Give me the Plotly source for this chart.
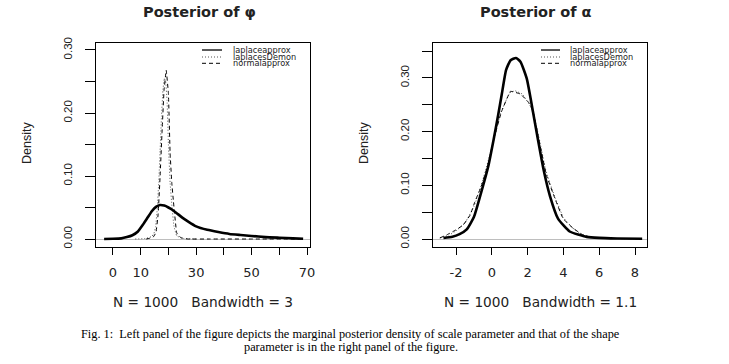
import plotly.graph_objects as go

W, H = 729, 364

# ---------------- data: left panel (phi) ----------------
phi_la_x = [-3.2, 0, 3, 5, 7, 9, 11, 12.5, 14, 15.5, 17, 18.5, 20, 21.5, 23, 25, 27, 30, 34, 38, 42, 46, 50, 55, 60, 65, 68.6]
phi_la_y = [0.0, 0.0003, 0.001, 0.003, 0.006, 0.012, 0.024, 0.034, 0.044, 0.051, 0.054, 0.053, 0.050, 0.046, 0.041, 0.034, 0.028, 0.020, 0.0145, 0.011, 0.008, 0.0063, 0.0048, 0.003, 0.002, 0.001, 0.0004]

phi_ld_x = [8, 12, 14, 14.8, 15.4, 16.0, 16.5, 17.0, 17.5, 18.0, 18.5, 19.0, 19.5, 20.0, 20.6, 21.3, 22.0, 23.0, 25, 30]
phi_ld_y = [0.0, 0.001, 0.004, 0.009, 0.02, 0.05, 0.09, 0.14, 0.195, 0.235, 0.255, 0.25, 0.22, 0.15, 0.09, 0.05, 0.02, 0.005, 0.001, 0.0]

phi_na_x = [12, 13, 14.5, 15.5, 16.3, 17.0, 17.7, 18.4, 19.2, 20.0, 20.6, 21.2, 21.8, 23.0, 24.5, 27, 35, 50, 68]
phi_na_y = [0.0, 0.001, 0.003, 0.01, 0.04, 0.10, 0.17, 0.235, 0.268, 0.231, 0.137, 0.09, 0.06, 0.0095, 0.002, 0.0, 0.0, 0.0, 0.0]

# ---------------- data: right panel (alpha) ----------------
alp_la_x = [-2.7, -2.2, -1.8, -1.4, -1.0, -0.6, -0.2, 0.1, 0.35, 0.55, 0.8, 1.05, 1.35, 1.6, 1.95, 2.3, 2.6, 2.9, 3.25, 3.7, 4.35, 5.3, 6.0, 7.0, 8.4]
alp_la_y = [0.002, 0.004, 0.009, 0.018, 0.041, 0.086, 0.135, 0.185, 0.230, 0.268, 0.315, 0.333, 0.337, 0.330, 0.299, 0.237, 0.181, 0.128, 0.080, 0.038, 0.014, 0.004, 0.002, 0.001, 0.0005]

alp_ld_x = [-2.9, -2.4, -2.0, -1.5, -1.0, -0.5, 0, 0.5, 1.0, 1.3, 1.7, 2.2, 2.6, 3.0, 3.5, 4.0, 4.5, 5.0, 5.6, 6.5, 8.4]
alp_ld_y = [0.002, 0.007, 0.015, 0.03, 0.06, 0.11, 0.17, 0.235, 0.272, 0.276, 0.27, 0.245, 0.195, 0.13, 0.08, 0.04, 0.021, 0.009, 0.003, 0.001, 0.0005]

alp_na_x = [-2.9, -2.5, -2.0, -1.6, -1.2, -0.95, -0.6, -0.2, 0.1, 0.54, 1.04, 1.6, 2.12, 2.35, 2.6, 3.05, 3.52, 3.98, 4.54, 5.1, 5.7, 6.5, 8.4]
alp_na_y = [0.002, 0.008, 0.017, 0.026, 0.045, 0.069, 0.097, 0.14, 0.185, 0.237, 0.275, 0.270, 0.252, 0.232, 0.19, 0.119, 0.076, 0.038, 0.020, 0.0074, 0.002, 0.001, 0.0005]

# ---------------- labels ----------------
titles = ["Posterior of \u03c6", "Posterior of \u03b1"]
xlabels = ["N = 1000   Bandwidth = 3", "N = 1000   Bandwidth = 1.1"]
ylabel = "Density"
legend_names = ["laplaceapprox", "laplacesDemon", "normalapprox"]
phi_xticks = [0, 10, 20, 30, 40, 50, 60, 70]
phi_xtext = ["0", "10", "", "30", "", "50", "", "70"]
phi_yticks = [0, 0.05, 0.10, 0.15, 0.20, 0.25, 0.30]
phi_ytext = ["0.00", "", "0.10", "", "0.20", "", "0.30"]
alp_xticks = [-2, 0, 2, 4, 6, 8]
alp_xtext = ["-2", "0", "2", "4", "6", "8"]
alp_yticks = [0, 0.05, 0.10, 0.15, 0.20, 0.25, 0.30, 0.35]
alp_ytext = ["0.00", "", "0.10", "", "0.20", "", "0.30", ""]
caption1 = "Fig. 1:\u00a0 Left panel of the figure depicts the marginal posterior density of scale parameter and that of the shape"
caption2 = "parameter is in the right panel of the figure."


def nb(s):
    return s.replace(" ", "\u00a0")


def px(x):
    return x / W


def py(y):
    return 1 - y / H


styles = [
    dict(color="black", width=2.6, dash="solid"),
    dict(color="#555555", width=1, dash="1px,2px"),
    dict(color="black", width=1, dash="4px,3px"),
]

fig = go.Figure()
panels = [
    ([(phi_la_x, phi_la_y), (phi_ld_x, phi_ld_y), (phi_na_x, phi_na_y)], "x", "y"),
    ([(alp_la_x, alp_la_y), (alp_ld_x, alp_ld_y), (alp_na_x, alp_na_y)], "x2", "y2"),
]
for series, xa, ya in panels:
    for idx in [1, 2, 0]:
        xs, ys = series[idx]
        fig.add_trace(go.Scatter(
            x=xs, y=ys, mode="lines", xaxis=xa, yaxis=ya,
            line=dict(shape="spline", smoothing=0.5 if idx == 0 else 0.2, **styles[idx]),
            name=legend_names[idx], showlegend=False, hoverinfo="skip"))

box_l = [96, 433]
box_r = [310, 647]
box_t, box_b = 43, 247

common_x = dict(ticks="outside", ticklen=7, tickcolor="black", showline=True, mirror=True,
                linecolor="black", linewidth=1, showgrid=False, zeroline=False,
                tickfont=dict(family="DejaVu Sans", size=13, color="#222"),
                ticklabelstandoff=6, automargin=False)
common_y = dict(ticks="outside", ticklen=10, tickcolor="black", showline=True, mirror=True,
                linecolor="black", linewidth=1, showgrid=False, zeroline=True,
                zerolinecolor="#BEBEBE", zerolinewidth=1, tickangle=-90,
                tickfont=dict(family="Liberation Sans", size=11.5, color="#222"),
                ticklabelstandoff=8, automargin=False)

fig.update_layout(
    width=W, height=H, autosize=False,
    margin=dict(l=0, r=0, t=0, b=0, pad=0),
    paper_bgcolor="white", plot_bgcolor="white",
    xaxis=dict(domain=[px(box_l[0]), px(box_r[0])], range=[-6.13, 71.08],
               tickvals=phi_xticks, ticktext=phi_xtext, anchor="y", **common_x),
    yaxis=dict(domain=[py(box_b), py(box_t)], range=[-0.0127, 0.3111],
               tickvals=phi_yticks, ticktext=phi_ytext, anchor="x", **common_y),
    xaxis2=dict(domain=[px(box_l[1]), px(box_r[1])], range=[-3.285, 8.67],
                tickvals=alp_xticks, ticktext=alp_xtext, anchor="y2", **common_x),
    yaxis2=dict(domain=[py(box_b), py(box_t)], range=[-0.0149, 0.365],
                tickvals=alp_yticks, ticktext=alp_ytext, anchor="x2", **common_y),
)

ann = []
shapes = []
for i in range(2):
    cx = (box_l[i] + box_r[i]) / 2
    ann.append(dict(text=titles[i], x=px(cx - 4), y=py(12), xref="paper", yref="paper",
                    showarrow=False, xanchor="center", yanchor="middle",
                    font=dict(family="DejaVu Sans", size=14.5, color="#222", weight="bold")))
    ann.append(dict(text=nb(xlabels[i]), x=px(cx), y=py(302), xref="paper", yref="paper",
                    showarrow=False, xanchor="center", yanchor="middle",
                    font=dict(family="DejaVu Sans", size=13.7, color="#222")))
    ann.append(dict(text=ylabel, x=px(box_l[i] - 69), y=py(143), xref="paper", yref="paper",
                    showarrow=False, xanchor="center", yanchor="middle", textangle=-90,
                    font=dict(family="Liberation Sans", size=12.5, color="#222")))
    lx0 = [202, 541][i]
    lx1 = [222, 560][i]
    tx = [231, 568][i]
    for k, ry in enumerate([50, 57, 63.3]):
        st = styles[k]
        shapes.append(dict(type="line", xref="paper", yref="paper",
                           x0=px(lx0), x1=px(lx1), y0=py(ry), y1=py(ry),
                           line=dict(color=st["color"], width=1 if k else 1.3, dash=st["dash"])))
        ann.append(dict(text=legend_names[k], x=px(tx), y=py(ry), xref="paper", yref="paper",
                        showarrow=False, xanchor="left", yanchor="middle",
                        font=dict(family="DejaVu Sans", size=8.2, color="#222")))

ann.append(dict(text=caption1, x=px(350), y=py(334), xref="paper", yref="paper",
                showarrow=False, xanchor="center", yanchor="middle",
                font=dict(family="Liberation Serif", size=12.3, color="black")))
ann.append(dict(text=caption2, x=px(351), y=py(347), xref="paper", yref="paper",
                showarrow=False, xanchor="center", yanchor="middle",
                font=dict(family="Liberation Serif", size=12.3, color="black")))

fig.update_layout(annotations=ann, shapes=shapes)
fig.write_html("out.html", config={"displayModeBar": False},
               post_script="document.body.style.margin='0';document.body.style.padding='0';")
